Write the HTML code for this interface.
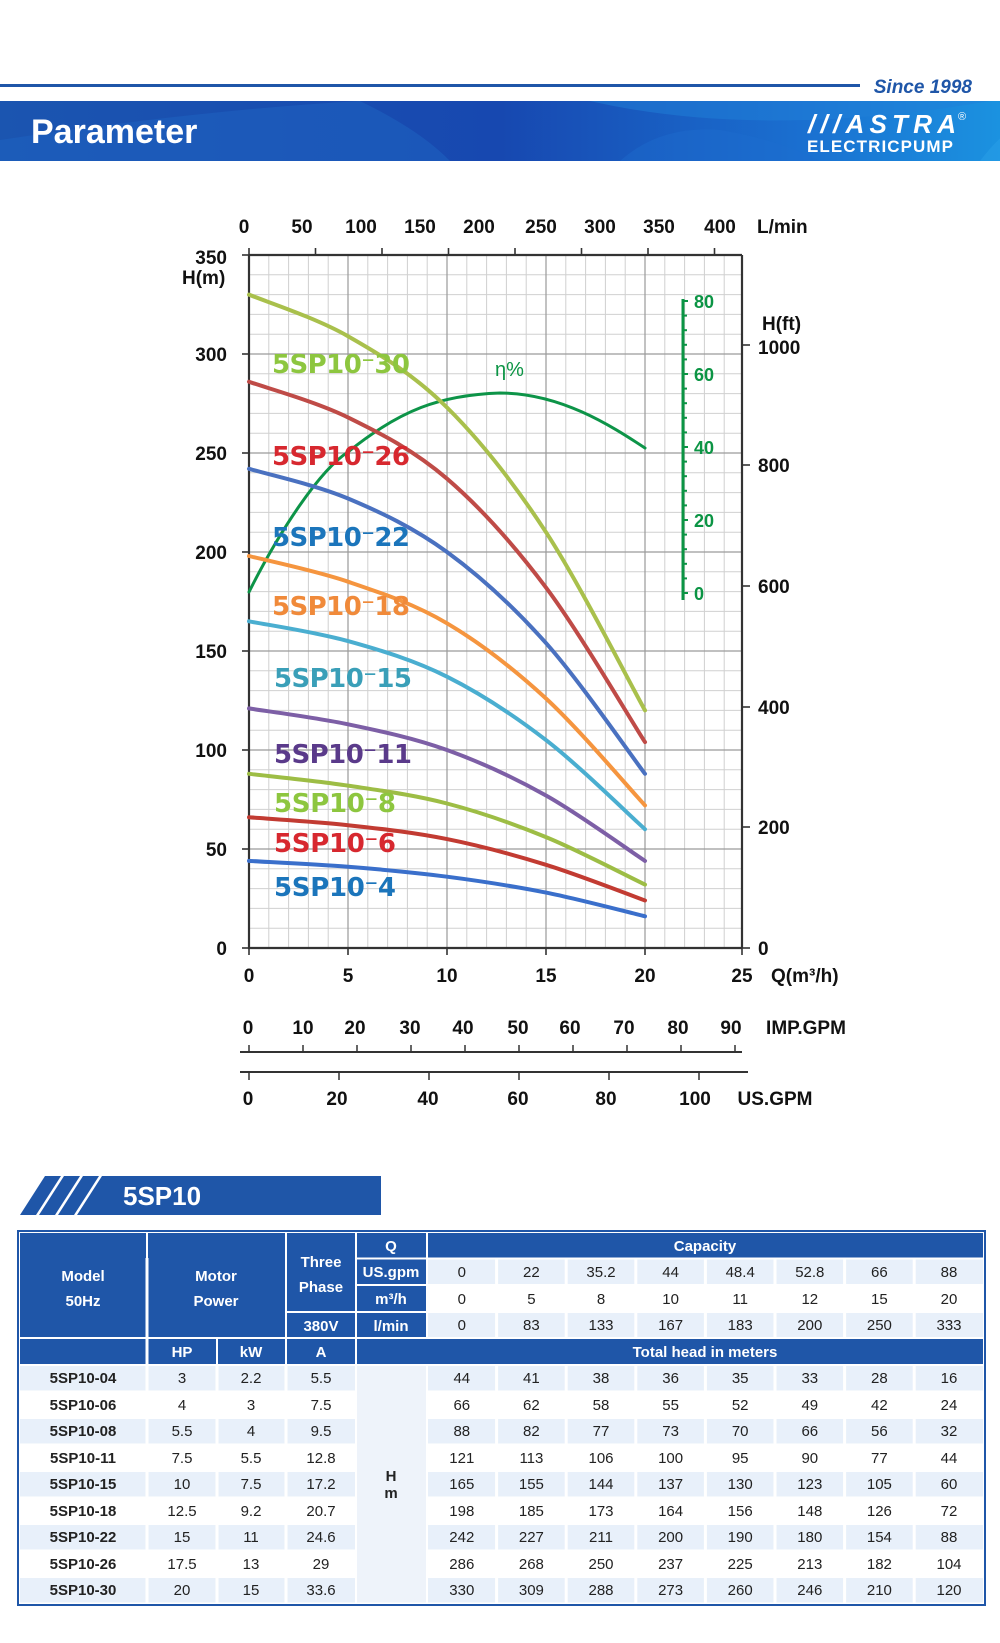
<!DOCTYPE html>
<html><head><meta charset="utf-8"><style>
html,body{margin:0;padding:0;background:#fff}
svg{display:block}
</style></head><body>
<svg width="1000" height="1643" viewBox="0 0 1000 1643" xmlns="http://www.w3.org/2000/svg" font-family="Liberation Sans, sans-serif">
<defs>
<linearGradient id="bg" x1="0" y1="0" x2="1" y2="0">
<stop offset="0" stop-color="#1b55b0"/><stop offset="0.5" stop-color="#1748b0"/><stop offset="0.8" stop-color="#1a6fd0"/><stop offset="1" stop-color="#1b92e0"/>
</linearGradient>
</defs>
<rect x="0" y="84" width="860" height="3" fill="#1f56a8"/>
<text x="972" y="93" text-anchor="end" font-size="19" font-weight="bold" font-style="italic" fill="#1f56a8">Since 1998</text>
<rect x="0" y="101" width="1000" height="60" fill="url(#bg)"/>
<path d="M360,101 Q420,130 450,161 L0,161 L0,140 Q200,110 360,101Z" fill="#1e60c0" opacity="0.6"/>
<path d="M590,101 Q760,140 990,101Z" fill="#1f7fd8" opacity="0.5"/>
<path d="M980,161 Q1010,120 1060,101 L1000,101 L1000,161Z" fill="#2aa0e8" opacity="0.5"/>
<path d="M620,161 Q660,125 720,130 Q780,140 820,161Z" fill="#1d6fd0" opacity="0.4"/>
<text x="31" y="143" font-size="34" font-weight="bold" fill="#fff">Parameter</text>
<text x="808" y="133" font-size="26" font-weight="bold" font-style="italic" fill="#fff" textLength="148">///ASTRA</text>
<text x="958" y="120" font-size="11" fill="#fff">®</text>
<text x="807" y="152" font-size="17" font-weight="bold" fill="#fff" textLength="146">ELECTRICPUMP</text>

<g stroke="#d0d0d0" stroke-width="1">
<line x1="268.8" y1="255" x2="268.8" y2="948"/><line x1="288.6" y1="255" x2="288.6" y2="948"/><line x1="308.4" y1="255" x2="308.4" y2="948"/><line x1="328.2" y1="255" x2="328.2" y2="948"/>
<line x1="367.8" y1="255" x2="367.8" y2="948"/><line x1="387.6" y1="255" x2="387.6" y2="948"/><line x1="407.4" y1="255" x2="407.4" y2="948"/><line x1="427.2" y1="255" x2="427.2" y2="948"/>
<line x1="466.8" y1="255" x2="466.8" y2="948"/><line x1="486.6" y1="255" x2="486.6" y2="948"/><line x1="506.4" y1="255" x2="506.4" y2="948"/><line x1="526.2" y1="255" x2="526.2" y2="948"/>
<line x1="565.8" y1="255" x2="565.8" y2="948"/><line x1="585.6" y1="255" x2="585.6" y2="948"/><line x1="605.4" y1="255" x2="605.4" y2="948"/><line x1="625.2" y1="255" x2="625.2" y2="948"/>
<line x1="664.8" y1="255" x2="664.8" y2="948"/><line x1="684.6" y1="255" x2="684.6" y2="948"/><line x1="704.4" y1="255" x2="704.4" y2="948"/><line x1="724.2" y1="255" x2="724.2" y2="948"/>
<line x1="249" y1="928.2" x2="742" y2="928.2"/><line x1="249" y1="908.4" x2="742" y2="908.4"/><line x1="249" y1="888.6" x2="742" y2="888.6"/><line x1="249" y1="868.8" x2="742" y2="868.8"/>
<line x1="249" y1="829.2" x2="742" y2="829.2"/><line x1="249" y1="809.4" x2="742" y2="809.4"/><line x1="249" y1="789.6" x2="742" y2="789.6"/><line x1="249" y1="769.8" x2="742" y2="769.8"/>
<line x1="249" y1="730.2" x2="742" y2="730.2"/><line x1="249" y1="710.4" x2="742" y2="710.4"/><line x1="249" y1="690.6" x2="742" y2="690.6"/><line x1="249" y1="670.8" x2="742" y2="670.8"/>
<line x1="249" y1="631.2" x2="742" y2="631.2"/><line x1="249" y1="611.4" x2="742" y2="611.4"/><line x1="249" y1="591.6" x2="742" y2="591.6"/><line x1="249" y1="571.8" x2="742" y2="571.8"/>
<line x1="249" y1="532.2" x2="742" y2="532.2"/><line x1="249" y1="512.4" x2="742" y2="512.4"/><line x1="249" y1="492.6" x2="742" y2="492.6"/><line x1="249" y1="472.8" x2="742" y2="472.8"/>
<line x1="249" y1="433.2" x2="742" y2="433.2"/><line x1="249" y1="413.4" x2="742" y2="413.4"/><line x1="249" y1="393.6" x2="742" y2="393.6"/><line x1="249" y1="373.8" x2="742" y2="373.8"/>
<line x1="249" y1="334.2" x2="742" y2="334.2"/><line x1="249" y1="314.4" x2="742" y2="314.4"/><line x1="249" y1="294.6" x2="742" y2="294.6"/><line x1="249" y1="274.8" x2="742" y2="274.8"/>
</g>
<g stroke="#9a9a9a" stroke-width="1.2">
<line x1="348" y1="255" x2="348" y2="948"/><line x1="447" y1="255" x2="447" y2="948"/><line x1="546" y1="255" x2="546" y2="948"/><line x1="645" y1="255" x2="645" y2="948"/>
<line x1="249" y1="849" x2="742" y2="849"/><line x1="249" y1="750" x2="742" y2="750"/><line x1="249" y1="651" x2="742" y2="651"/><line x1="249" y1="552" x2="742" y2="552"/><line x1="249" y1="453" x2="742" y2="453"/><line x1="249" y1="354" x2="742" y2="354"/>
</g>
<g stroke="#333" stroke-width="2.2" fill="none">
<path d="M249,255 L742,255 M249,255 L249,948 L742,948 M742,255 L742,948"/>
</g>
<g stroke="#333" stroke-width="1.6">
<line x1="242" y1="948" x2="249" y2="948"/><line x1="242" y1="849" x2="249" y2="849"/><line x1="242" y1="750" x2="249" y2="750"/><line x1="242" y1="651" x2="249" y2="651"/><line x1="242" y1="552" x2="249" y2="552"/><line x1="242" y1="453" x2="249" y2="453"/><line x1="242" y1="354" x2="249" y2="354"/><line x1="242" y1="255" x2="249" y2="255"/>
<line x1="249" y1="948" x2="249" y2="955"/><line x1="348" y1="948" x2="348" y2="955"/><line x1="447" y1="948" x2="447" y2="955"/><line x1="546" y1="948" x2="546" y2="955"/><line x1="645" y1="948" x2="645" y2="955"/><line x1="742" y1="948" x2="742" y2="955"/>
<line x1="249" y1="248" x2="249" y2="255"/><line x1="315.5" y1="248" x2="315.5" y2="255"/><line x1="382" y1="248" x2="382" y2="255"/><line x1="448.5" y1="248" x2="448.5" y2="255"/><line x1="515" y1="248" x2="515" y2="255"/><line x1="581.5" y1="248" x2="581.5" y2="255"/><line x1="648" y1="248" x2="648" y2="255"/><line x1="714.5" y1="248" x2="714.5" y2="255"/>
<line x1="742" y1="948" x2="750" y2="948"/><line x1="742" y1="827" x2="750" y2="827"/><line x1="742" y1="707" x2="750" y2="707"/><line x1="742" y1="586" x2="750" y2="586"/><line x1="742" y1="465" x2="750" y2="465"/><line x1="742" y1="345" x2="750" y2="345"/>
</g>
<g font-size="19" font-weight="bold" fill="#111">
<g text-anchor="end">
<text x="227" y="955">0</text><text x="227" y="856">50</text><text x="227" y="757">100</text><text x="227" y="658">150</text><text x="227" y="559">200</text><text x="227" y="460">250</text><text x="227" y="361">300</text><text x="227" y="264">350</text>
</g>
<text x="182" y="284">H(m)</text>
<g text-anchor="middle">
<text x="249" y="982">0</text><text x="348" y="982">5</text><text x="447" y="982">10</text><text x="546" y="982">15</text><text x="645" y="982">20</text><text x="742" y="982">25</text>
<text x="244" y="233">0</text><text x="302" y="233">50</text><text x="361" y="233">100</text><text x="420" y="233">150</text><text x="479" y="233">200</text><text x="541" y="233">250</text><text x="600" y="233">300</text><text x="659" y="233">350</text><text x="720" y="233">400</text>
</g>
<text x="757" y="233">L/min</text>
<text x="771" y="982">Q(m³/h)</text>
<text x="762" y="330">H(ft)</text>
<text x="758" y="955">0</text><text x="758" y="834">200</text><text x="758" y="714">400</text><text x="758" y="593">600</text><text x="758" y="472">800</text><text x="758" y="354">1000</text>
</g>
<g stroke="#0b9444" stroke-width="3"><line x1="683" y1="299" x2="683" y2="600"/></g>
<g stroke="#0b9444" stroke-width="2">
<line x1="683" y1="301" x2="688" y2="301"/><line x1="683" y1="315.6" x2="687" y2="315.6"/><line x1="683" y1="330.2" x2="687" y2="330.2"/><line x1="683" y1="344.8" x2="687" y2="344.8"/><line x1="683" y1="359.4" x2="687" y2="359.4"/><line x1="683" y1="374" x2="688" y2="374"/><line x1="683" y1="388.6" x2="687" y2="388.6"/><line x1="683" y1="403.2" x2="687" y2="403.2"/><line x1="683" y1="417.8" x2="687" y2="417.8"/><line x1="683" y1="432.4" x2="687" y2="432.4"/><line x1="683" y1="447" x2="688" y2="447"/><line x1="683" y1="461.6" x2="687" y2="461.6"/><line x1="683" y1="476.2" x2="687" y2="476.2"/><line x1="683" y1="490.8" x2="687" y2="490.8"/><line x1="683" y1="505.4" x2="687" y2="505.4"/><line x1="683" y1="520" x2="688" y2="520"/><line x1="683" y1="534.6" x2="687" y2="534.6"/><line x1="683" y1="549.2" x2="687" y2="549.2"/><line x1="683" y1="563.8" x2="687" y2="563.8"/><line x1="683" y1="578.4" x2="687" y2="578.4"/><line x1="683" y1="593" x2="688" y2="593"/>
</g>
<g font-size="18" font-weight="bold" fill="#0b9444">
<text x="694" y="308">80</text><text x="694" y="381">60</text><text x="694" y="454">40</text><text x="694" y="527">20</text><text x="694" y="600">0</text>
<text x="495" y="376" font-weight="normal" font-size="20">η%</text>
</g>
<g fill="none" stroke-width="4" stroke-linejoin="round" stroke-linecap="round">
<path stroke="#0d9448" stroke-width="3" d="M249,592 C280,530 320,470 348,452 C400,410 440,395 500,393 C560,393 610,425 645,448"/>
<path stroke="#a9c04c" d="M249,294.6 C265.5,301.5 315,317.4 348,336.2 C381,355 414,374.8 447,407.5 C480,440.2 513,481.7 546,532.2 C579,582.7 628.5,680.7 645,710.4"/>
<path stroke="#bf4b47" d="M249,381.7 C265.5,387.7 315,401.2 348,417.4 C381,433.6 414,450.3 447,478.7 C480,507.1 513,543.7 546,587.6 C579,631.5 628.5,716.4 645,742.1"/>
<path stroke="#4a71c0" d="M249,468.8 C265.5,473.8 315,484.6 348,498.5 C381,512.4 414,527.9 447,552 C480,576.1 513,606.1 546,643.1 C579,680.1 628.5,752 645,773.8"/>
<path stroke="#f5953f" d="M249,556 C265.5,560.3 315,570.5 348,581.7 C381,592.9 414,603.8 447,623.3 C480,642.8 513,668.2 546,698.5 C579,728.9 628.5,787.6 645,805.4"/>
<path stroke="#4aaed0" d="M249,621.3 C265.5,624.6 315,631.9 348,641.1 C381,650.3 414,660.2 447,676.7 C480,693.2 513,714.7 546,740.1 C579,765.5 628.5,814.4 645,829.2"/>
<path stroke="#7d5fa6" d="M249,708.4 C265.5,711.1 315,717.4 348,724.3 C381,731.2 414,738.1 447,750 C480,761.9 513,777 546,795.5 C579,814 628.5,850 645,860.9"/>
<path stroke="#9dbd45" d="M249,773.8 C265.5,775.8 315,780.6 348,785.6 C381,790.6 414,794.9 447,803.5 C480,812.1 513,823.6 546,837.1 C579,850.6 628.5,876.7 645,884.6"/>
<path stroke="#c23b32" d="M249,817.3 C265.5,818.6 315,821.6 348,825.2 C381,828.8 414,832.5 447,839.1 C480,845.7 513,854.6 546,864.8 C579,875 628.5,894.5 645,900.5"/>
<path stroke="#3a6fcb" d="M249,860.9 C265.5,861.9 315,864.2 348,866.8 C381,869.4 414,872.4 447,876.7 C480,881 513,886 546,892.6 C579,899.2 628.5,912.4 645,916.3"/>
</g>
<g font-family="DejaVu Sans, sans-serif" font-size="26" font-weight="bold">
<text x="272" y="373" fill="#8dc63f" textLength="138">5SP10⁻30</text>
<text x="272" y="465" fill="#d7282f" textLength="138">5SP10⁻26</text>
<text x="272" y="546" fill="#1b75bb" textLength="138">5SP10⁻22</text>
<text x="272" y="615" fill="#f08a3a" textLength="138">5SP10⁻18</text>
<text x="274" y="687" fill="#3a9fb8" textLength="138">5SP10⁻15</text>
<text x="274" y="763" fill="#5a3a8a" textLength="138">5SP10⁻11</text>
<text x="274" y="812" fill="#8dc63f" textLength="122">5SP10⁻8</text>
<text x="274" y="852" fill="#d7282f" textLength="122">5SP10⁻6</text>
<text x="274" y="896" fill="#1b75bb" textLength="122">5SP10⁻4</text>
</g>
<g stroke="#333" stroke-width="2">
<line x1="240" y1="1052" x2="742" y2="1052"/><line x1="240" y1="1072" x2="748" y2="1072"/>
</g>
<g stroke="#333" stroke-width="1.5">
<line x1="249" y1="1045" x2="249" y2="1052"/><line x1="303" y1="1045" x2="303" y2="1052"/><line x1="357" y1="1045" x2="357" y2="1052"/><line x1="411" y1="1045" x2="411" y2="1052"/><line x1="465" y1="1045" x2="465" y2="1052"/><line x1="519" y1="1045" x2="519" y2="1052"/><line x1="573" y1="1045" x2="573" y2="1052"/><line x1="627" y1="1045" x2="627" y2="1052"/><line x1="681" y1="1045" x2="681" y2="1052"/><line x1="735" y1="1045" x2="735" y2="1052"/>
<line x1="249" y1="1072" x2="249" y2="1080"/><line x1="339" y1="1072" x2="339" y2="1080"/><line x1="429" y1="1072" x2="429" y2="1080"/><line x1="519" y1="1072" x2="519" y2="1080"/><line x1="609" y1="1072" x2="609" y2="1080"/><line x1="699" y1="1072" x2="699" y2="1080"/>
</g>
<g font-size="19" font-weight="bold" fill="#111" text-anchor="middle">
<text x="248" y="1034">0</text><text x="303" y="1034">10</text><text x="355" y="1034">20</text><text x="410" y="1034">30</text><text x="463" y="1034">40</text><text x="518" y="1034">50</text><text x="570" y="1034">60</text><text x="624" y="1034">70</text><text x="678" y="1034">80</text><text x="731" y="1034">90</text>
<text x="248" y="1105">0</text><text x="337" y="1105">20</text><text x="428" y="1105">40</text><text x="518" y="1105">60</text><text x="606" y="1105">80</text><text x="695" y="1105">100</text>
<text x="806" y="1034">IMP.GPM</text><text x="775" y="1105">US.GPM</text>
</g>

<g fill="#1f56a8">
<polygon points="20,1215 45,1176 61,1176 36,1215"/>
<polygon points="39,1215 64,1176 80,1176 55,1215"/>
<polygon points="58,1215 83,1176 99,1176 74,1215"/>
<polygon points="77,1215 102,1176 381,1176 381,1215"/>
</g>
<text x="123" y="1205" font-size="26" font-weight="bold" fill="#fff">5SP10</text>

<rect x="18" y="1231" width="967" height="374" fill="#1f56a8"/>
<g fill="#1f56a8" stroke="#fff" stroke-width="2">
<rect x="19" y="1232" width="128" height="106"/>
<rect x="147" y="1232" width="139" height="106"/>
<rect x="286" y="1232" width="70" height="80"/>
<rect x="286" y="1312" width="70" height="26"/>
<rect x="356" y="1232" width="71" height="26.5"/>
<rect x="356" y="1258.5" width="71" height="26.5"/>
<rect x="356" y="1285" width="71" height="27"/>
<rect x="356" y="1312" width="71" height="26"/>
<rect x="427" y="1232" width="557" height="26.5"/>
<rect x="19" y="1338" width="128" height="27"/>
<rect x="147" y="1338" width="70" height="27"/>
<rect x="217" y="1338" width="69" height="27"/>
<rect x="286" y="1338" width="70" height="27"/>
<rect x="356" y="1338" width="628" height="27"/>
</g>
<g stroke="#fff" stroke-width="2">
<rect x="427" y="1258.5" width="557" height="26.5" fill="#e8f0fa"/>
<rect x="427" y="1285" width="557" height="27" fill="#ffffff"/>
<rect x="427" y="1312" width="557" height="26" fill="#e8f0fa"/>
<rect x="19" y="1365" width="965" height="26.5" fill="#e8f0fa"/>
<rect x="19" y="1391.5" width="965" height="26.5" fill="#fff"/>
<rect x="19" y="1418" width="965" height="26.5" fill="#e8f0fa"/>
<rect x="19" y="1444.5" width="965" height="26.5" fill="#fff"/>
<rect x="19" y="1471" width="965" height="26.5" fill="#e8f0fa"/>
<rect x="19" y="1497.5" width="965" height="26.5" fill="#fff"/>
<rect x="19" y="1524" width="965" height="26.5" fill="#e8f0fa"/>
<rect x="19" y="1550.5" width="965" height="26.5" fill="#fff"/>
<rect x="19" y="1577" width="965" height="26.5" fill="#e8f0fa"/>
<rect x="356" y="1365" width="71" height="238.5" fill="#eef3fa"/>
</g>
<g stroke="#fff" stroke-width="3">
<line x1="147" y1="1258" x2="147" y2="1604"/><line x1="217" y1="1365" x2="217" y2="1604"/><line x1="286" y1="1365" x2="286" y2="1604"/>
<line x1="496.6" y1="1258" x2="496.6" y2="1338"/><line x1="566.2" y1="1258" x2="566.2" y2="1338"/><line x1="635.8" y1="1258" x2="635.8" y2="1338"/><line x1="705.4" y1="1258" x2="705.4" y2="1338"/><line x1="775" y1="1258" x2="775" y2="1338"/><line x1="844.6" y1="1258" x2="844.6" y2="1338"/><line x1="914.2" y1="1258" x2="914.2" y2="1338"/>
<line x1="496.6" y1="1365" x2="496.6" y2="1604"/><line x1="566.2" y1="1365" x2="566.2" y2="1604"/><line x1="635.8" y1="1365" x2="635.8" y2="1604"/><line x1="705.4" y1="1365" x2="705.4" y2="1604"/><line x1="775" y1="1365" x2="775" y2="1604"/><line x1="844.6" y1="1365" x2="844.6" y2="1604"/><line x1="914.2" y1="1365" x2="914.2" y2="1604"/>
</g>
<rect x="18" y="1231" width="967" height="374" fill="none" stroke="#1f56a8" stroke-width="2"/>
<g font-size="15" font-weight="bold" fill="#fff" text-anchor="middle">
<text x="83" y="1281">Model</text><text x="83" y="1306">50Hz</text>
<text x="216" y="1281">Motor</text><text x="216" y="1306">Power</text>
<text x="321" y="1267">Three</text><text x="321" y="1292">Phase</text>
<text x="321" y="1331">380V</text>
<text x="391" y="1251">Q</text><text x="391" y="1277">US.gpm</text><text x="391" y="1304">m³/h</text><text x="391" y="1331">l/min</text>
<text x="705" y="1251">Capacity</text>
<text x="182" y="1357">HP</text><text x="251" y="1357">kW</text><text x="321" y="1357">A</text>
<text x="705" y="1357">Total head in meters</text>
</g>
<g font-size="15" fill="#222" text-anchor="middle">
<g>
<text x="461.8" y="1277">0</text><text x="531.4" y="1277">22</text><text x="601" y="1277">35.2</text><text x="670.6" y="1277">44</text><text x="740.2" y="1277">48.4</text><text x="809.8" y="1277">52.8</text><text x="879.4" y="1277">66</text><text x="949" y="1277">88</text>
<text x="461.8" y="1304">0</text><text x="531.4" y="1304">5</text><text x="601" y="1304">8</text><text x="670.6" y="1304">10</text><text x="740.2" y="1304">11</text><text x="809.8" y="1304">12</text><text x="879.4" y="1304">15</text><text x="949" y="1304">20</text>
<text x="461.8" y="1330">0</text><text x="531.4" y="1330">83</text><text x="601" y="1330">133</text><text x="670.6" y="1330">167</text><text x="740.2" y="1330">183</text><text x="809.8" y="1330">200</text><text x="879.4" y="1330">250</text><text x="949" y="1330">333</text>
</g>
<g font-weight="bold" fill="#222"><text x="83" y="1383">5SP10-04</text><text x="83" y="1410">5SP10-06</text><text x="83" y="1436">5SP10-08</text><text x="83" y="1463">5SP10-11</text><text x="83" y="1489">5SP10-15</text><text x="83" y="1516">5SP10-18</text><text x="83" y="1542">5SP10-22</text><text x="83" y="1569">5SP10-26</text><text x="83" y="1595">5SP10-30</text>
<text x="391" y="1481">H</text><text x="391" y="1498">m</text></g>
<text x="182" y="1383">3</text><text x="251" y="1383">2.2</text><text x="321" y="1383">5.5</text>
<text x="182" y="1410">4</text><text x="251" y="1410">3</text><text x="321" y="1410">7.5</text>
<text x="182" y="1436">5.5</text><text x="251" y="1436">4</text><text x="321" y="1436">9.5</text>
<text x="182" y="1463">7.5</text><text x="251" y="1463">5.5</text><text x="321" y="1463">12.8</text>
<text x="182" y="1489">10</text><text x="251" y="1489">7.5</text><text x="321" y="1489">17.2</text>
<text x="182" y="1516">12.5</text><text x="251" y="1516">9.2</text><text x="321" y="1516">20.7</text>
<text x="182" y="1542">15</text><text x="251" y="1542">11</text><text x="321" y="1542">24.6</text>
<text x="182" y="1569">17.5</text><text x="251" y="1569">13</text><text x="321" y="1569">29</text>
<text x="182" y="1595">20</text><text x="251" y="1595">15</text><text x="321" y="1595">33.6</text>
<text x="461.8" y="1383">44</text><text x="531.4" y="1383">41</text><text x="601" y="1383">38</text><text x="670.6" y="1383">36</text><text x="740.2" y="1383">35</text><text x="809.8" y="1383">33</text><text x="879.4" y="1383">28</text><text x="949" y="1383">16</text>
<text x="461.8" y="1410">66</text><text x="531.4" y="1410">62</text><text x="601" y="1410">58</text><text x="670.6" y="1410">55</text><text x="740.2" y="1410">52</text><text x="809.8" y="1410">49</text><text x="879.4" y="1410">42</text><text x="949" y="1410">24</text>
<text x="461.8" y="1436">88</text><text x="531.4" y="1436">82</text><text x="601" y="1436">77</text><text x="670.6" y="1436">73</text><text x="740.2" y="1436">70</text><text x="809.8" y="1436">66</text><text x="879.4" y="1436">56</text><text x="949" y="1436">32</text>
<text x="461.8" y="1463">121</text><text x="531.4" y="1463">113</text><text x="601" y="1463">106</text><text x="670.6" y="1463">100</text><text x="740.2" y="1463">95</text><text x="809.8" y="1463">90</text><text x="879.4" y="1463">77</text><text x="949" y="1463">44</text>
<text x="461.8" y="1489">165</text><text x="531.4" y="1489">155</text><text x="601" y="1489">144</text><text x="670.6" y="1489">137</text><text x="740.2" y="1489">130</text><text x="809.8" y="1489">123</text><text x="879.4" y="1489">105</text><text x="949" y="1489">60</text>
<text x="461.8" y="1516">198</text><text x="531.4" y="1516">185</text><text x="601" y="1516">173</text><text x="670.6" y="1516">164</text><text x="740.2" y="1516">156</text><text x="809.8" y="1516">148</text><text x="879.4" y="1516">126</text><text x="949" y="1516">72</text>
<text x="461.8" y="1542">242</text><text x="531.4" y="1542">227</text><text x="601" y="1542">211</text><text x="670.6" y="1542">200</text><text x="740.2" y="1542">190</text><text x="809.8" y="1542">180</text><text x="879.4" y="1542">154</text><text x="949" y="1542">88</text>
<text x="461.8" y="1569">286</text><text x="531.4" y="1569">268</text><text x="601" y="1569">250</text><text x="670.6" y="1569">237</text><text x="740.2" y="1569">225</text><text x="809.8" y="1569">213</text><text x="879.4" y="1569">182</text><text x="949" y="1569">104</text>
<text x="461.8" y="1595">330</text><text x="531.4" y="1595">309</text><text x="601" y="1595">288</text><text x="670.6" y="1595">273</text><text x="740.2" y="1595">260</text><text x="809.8" y="1595">246</text><text x="879.4" y="1595">210</text><text x="949" y="1595">120</text>
</g>
</svg>
</body></html>
